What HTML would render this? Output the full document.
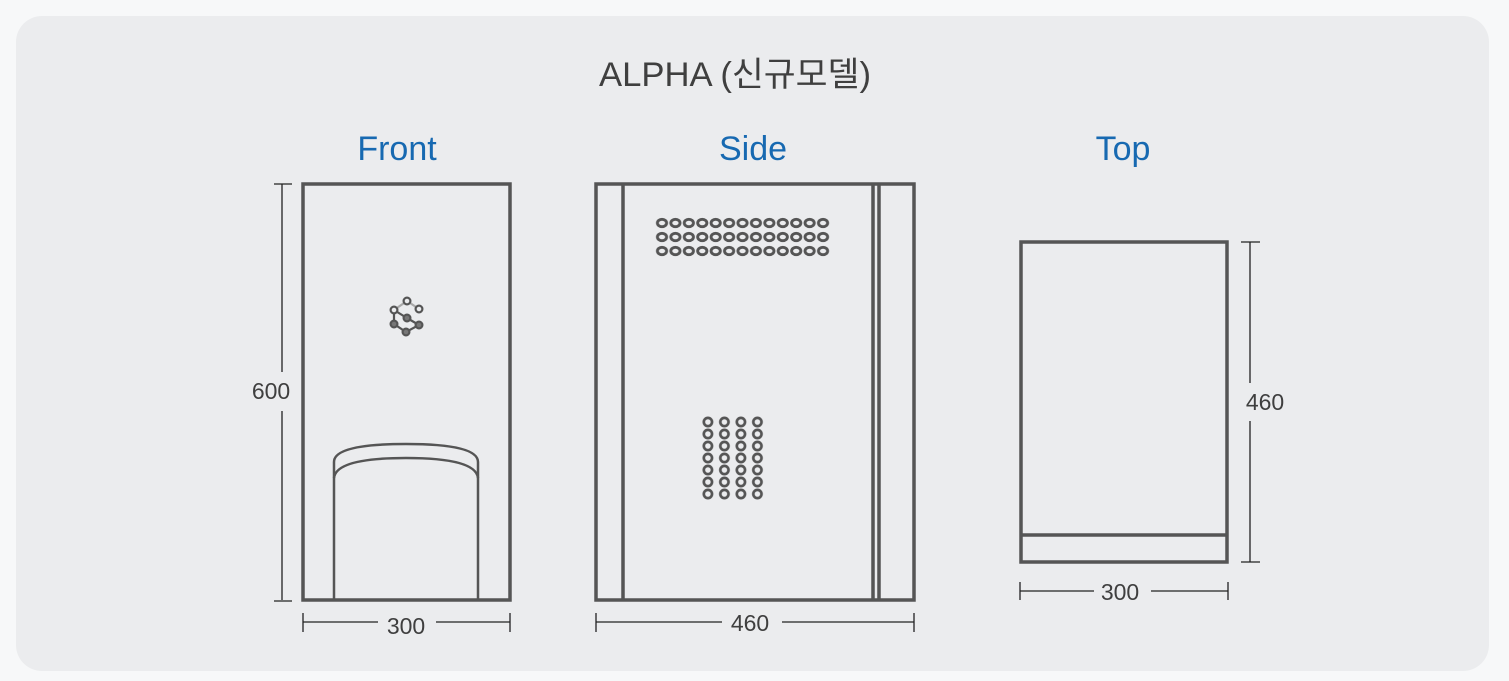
<!DOCTYPE html>
<html><head><meta charset="utf-8"><style>
html,body{margin:0;padding:0;background:#f7f8f9;}
svg{display:block;}
text{font-family:"Liberation Sans","Noto Sans CJK KR",sans-serif;}
</style></head><body>
<svg width="1509" height="681" viewBox="0 0 1509 681" xmlns="http://www.w3.org/2000/svg">
<defs>
<pattern id="pe" x="655.3" y="216" width="13.42" height="14" patternUnits="userSpaceOnUse">
<ellipse cx="6.71" cy="7" rx="4.6" ry="3.7" fill="none" stroke="#555" stroke-width="2.9"/>
</pattern>
<pattern id="pc" x="699.67" y="416" width="16.5" height="12" patternUnits="userSpaceOnUse">
<circle cx="8.25" cy="6" r="4.1" fill="none" stroke="#555" stroke-width="2.7"/>
</pattern>
</defs>
<rect x="0" y="0" width="1509" height="681" fill="#f7f8f9"/>
<rect x="16" y="16" width="1473" height="655" rx="26" fill="#ebecee"/>
<text x="735" y="86" font-size="34" fill="#3f3f3f" text-anchor="middle" textLength="272" lengthAdjust="spacingAndGlyphs">ALPHA (신규모델)</text>
<text x="397" y="160" font-size="34" fill="#1769b1" text-anchor="middle">Front</text>
<text x="753" y="160" font-size="34" fill="#1769b1" text-anchor="middle">Side</text>
<text x="1123" y="160" font-size="34" fill="#1769b1" text-anchor="middle">Top</text>

<g stroke="#555" fill="none">
<rect x="303" y="184" width="207" height="416" stroke-width="3.5"/>
<path d="M334 600 V462 Q334 444 406 444 Q478 444 478 462 V600" stroke-width="2.5"/>
<path d="M334 478 Q336 458 406 458 Q476 458 478 478" stroke-width="2.5"/>
<g stroke-width="2.2">
<path d="M394 310 L407 301 L419 309" stroke="#aaa"/>
<path d="M394 310 V324 L406 332 L419 325 L407 318 L394 310"/>
</g>
<g stroke-width="2.2">
<circle cx="407" cy="301" r="3.4" fill="#ebecee"/>
<circle cx="394" cy="310" r="3.4" fill="#ebecee"/>
<circle cx="419" cy="309" r="3.4" fill="#ebecee"/>
<circle cx="407" cy="318" r="3.4" fill="#777"/>
<circle cx="394" cy="324" r="3.4" fill="#777"/>
<circle cx="419" cy="325" r="3.4" fill="#777"/>
<circle cx="406" cy="332" r="3.4" fill="#777"/>
</g>
<rect x="596" y="184" width="318" height="416" stroke-width="3.5"/>
<line x1="623" y1="184" x2="623" y2="600" stroke-width="3.5"/>
<line x1="873" y1="184" x2="873" y2="600" stroke-width="3.5"/>
<line x1="879" y1="184" x2="879" y2="600" stroke-width="3.5"/>
<rect x="655.3" y="216" width="174.5" height="42" fill="url(#pe)" stroke="none"/>
<rect x="699.67" y="416" width="66" height="84" fill="url(#pc)" stroke="none"/>
<rect x="1021" y="242" width="206" height="320" stroke-width="3.5"/>
<line x1="1021" y1="535" x2="1227" y2="535" stroke-width="3.5"/>
</g>

<g stroke="#222" stroke-width="1.3" fill="none">
<line x1="282" y1="184" x2="282" y2="372"/><line x1="282" y1="411" x2="282" y2="600"/>
<line x1="274" y1="184" x2="292" y2="184"/><line x1="274" y1="601" x2="292" y2="601"/>
<line x1="303" y1="622" x2="378" y2="622"/><line x1="436" y1="622" x2="510" y2="622"/>
<line x1="303" y1="613" x2="303" y2="632"/><line x1="510" y1="613" x2="510" y2="632"/>
<line x1="596" y1="622" x2="722" y2="622"/><line x1="782" y1="622" x2="914" y2="622"/>
<line x1="596" y1="613" x2="596" y2="632"/><line x1="914" y1="613" x2="914" y2="632"/>
<line x1="1250" y1="242" x2="1250" y2="383"/><line x1="1250" y1="421" x2="1250" y2="562"/>
<line x1="1241" y1="242" x2="1260" y2="242"/><line x1="1241" y1="562" x2="1260" y2="562"/>
<line x1="1020" y1="591" x2="1094" y2="591"/><line x1="1151" y1="591" x2="1228" y2="591"/>
<line x1="1020" y1="582" x2="1020" y2="600"/><line x1="1228" y1="582" x2="1228" y2="600"/>
</g>
<g font-size="23" fill="#3f3f3f" text-anchor="middle">
<text x="271" y="399">600</text>
<text x="406" y="634">300</text>
<text x="750" y="631">460</text>
<text x="1265" y="410">460</text>
<text x="1120" y="600">300</text>
</g>
</svg>
</body></html>
